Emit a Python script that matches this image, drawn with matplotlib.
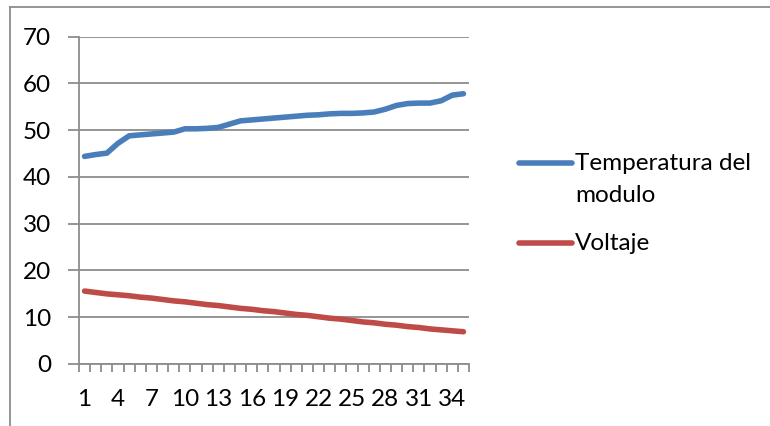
import numpy as np
import matplotlib; matplotlib.use("Agg")
import matplotlib.pyplot as plt
from matplotlib.lines import Line2D

plt.rcParams['font.family'] = ['Lato', 'DejaVu Sans']

# one reading per sample, 35 samples
muestra = list(range(1, 36))
temperatura = [44.4, 44.8, 45.1, 47.2, 48.8, 49.0, 49.2, 49.4, 49.6, 50.3,
               50.3, 50.4, 50.6, 51.3, 52.0, 52.2, 52.4, 52.6, 52.8, 53.0,
               53.2, 53.3, 53.5, 53.6, 53.6, 53.7, 53.9, 54.5, 55.3, 55.7,
               55.8, 55.8, 56.3, 57.5, 57.8]
voltaje = [15.6, 15.3, 15.0, 14.8, 14.6, 14.3, 14.1, 13.8, 13.5, 13.3,
           13.0, 12.7, 12.5, 12.2, 11.9, 11.7, 11.4, 11.2, 10.9, 10.6,
           10.4, 10.1, 9.8, 9.6, 9.3, 9.0, 8.8, 8.5, 8.3, 8.0,
           7.8, 7.5, 7.3, 7.1, 6.9]
etiquetas = ["Temperatura del\nmodulo", "Voltaje"]
y_ticks = [0, 10, 20, 30, 40, 50, 60, 70]

BLUE, RED, GRID = "#4A7EBB", "#BE4B48", "#8C8C8C"
FS = 17.5
LW = 4.0
W, H = 770, 426

fig = plt.figure(figsize=(7.7, 4.26), dpi=100)
ax = fig.add_axes([79 / W, 1 - 364 / H, (469 - 79) / W, (364 - 36.7) / H])

ax.plot(muestra, temperatura, color=BLUE, lw=LW, solid_capstyle="round",
        solid_joinstyle="round")
ax.plot(muestra, voltaje, color=RED, lw=LW, solid_capstyle="round",
        solid_joinstyle="round")

ax.set_xlim(0.5, 35.5)
ax.set_ylim(0, 70)
ax.set_yticks(y_ticks)
ax.yaxis.grid(True, color=GRID, lw=1.3)
ax.set_axisbelow(True)

# labels every 3rd category, tick marks at category borders
ax.set_xticks(muestra[::3])
ax.set_xticks(np.arange(0.5, 36, 1), minor=True)
ax.tick_params(axis="x", which="major", length=0, pad=18, labelsize=FS)
ax.tick_params(axis="x", which="minor", length=6, width=1.3, color=GRID)
ax.tick_params(axis="y", length=8, width=1.3, color=GRID, pad=12, labelsize=FS)

for s in ["top", "right"]:
    ax.spines[s].set_visible(False)
for s in ["left", "bottom"]:
    ax.spines[s].set_color(GRID)
    ax.spines[s].set_linewidth(1.3)

# legend drawn by hand: marker aligned with first text line, like Excel
for lab, col, ypx in [(etiquetas[0], BLUE, 163), (etiquetas[1], RED, 243)]:
    y = 1 - ypx / H
    fig.add_artist(Line2D([519 / W, 572 / W], [y, y], color=col, lw=LW,
                          solid_capstyle="round"))
    for k, line in enumerate(lab.split("\n")):
        fig.text(575 / W, 1 - (ypx + 32 * k) / H, line, fontsize=FS,
                 va="center", ha="left")

# chart area border (left and top only visible)
fig.add_artist(Line2D([10 / W, 10 / W], [0, 1 - 7 / H], color=GRID, lw=1.3))
fig.add_artist(Line2D([10 / W, 1], [1 - 7 / H, 1 - 7 / H], color=GRID, lw=1.3))

fig.savefig("out.png", dpi=100)
